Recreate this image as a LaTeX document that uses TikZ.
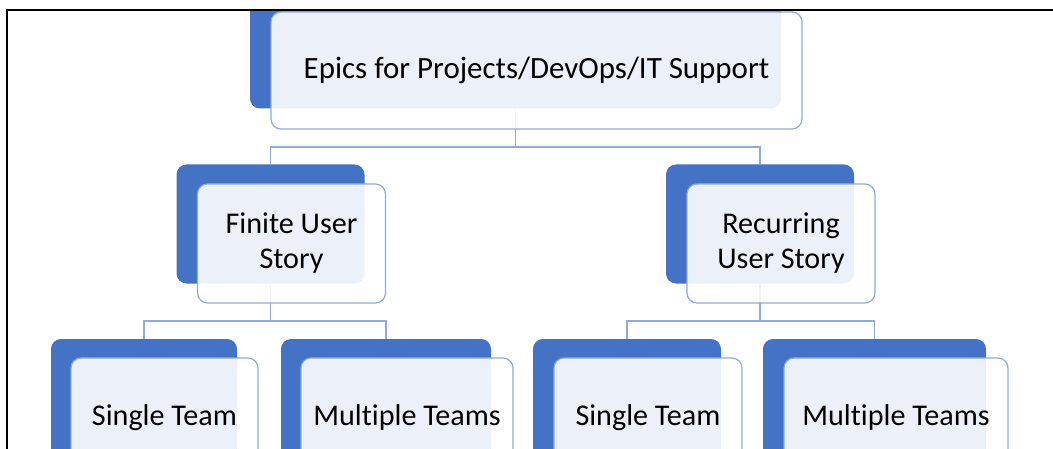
\documentclass[tikz,border=0pt]{standalone}
\usepackage{fontspec}
\setmainfont{Carlito}[Ligatures=NoCommon]
\definecolor{acc}{HTML}{4472C4}
\definecolor{lineblue}{HTML}{8FAADC}
\pgfdeclarelayer{bg}
\pgfsetlayers{bg,main}
\begin{document}
\begin{tikzpicture}[x=0.75pt,y=-0.75pt,
 bk/.style={fill=acc, draw=none, rounded corners=7.5pt, inner sep=0pt},
 fr/.style={fill=white, fill opacity=0.9, text opacity=1, draw=lineblue, line width=0.9pt, rounded corners=7.5pt, inner sep=0pt, align=center, text=black, font=\fontsize{22.6}{26.25}\selectfont},
 conn/.style={draw=lineblue, line width=0.9pt},
 frame/.style={draw=black, line width=2pt}]
\useasboundingbox (0,0) rectangle (1053,449);
\begin{scope}
\clip (0,10) rectangle (1053,449);
% top
\node[bk, minimum width=398.25pt, minimum height=87.75pt] (epicB) at (515.5,50) {};
\node[fr, minimum width=398.25pt, minimum height=87.75pt, font=\fontsize{23.2}{27}\selectfont] (epic) at (536.5,70.5) {Epics for Projects/DevOps/IT Support};
% level 2
\node[bk, minimum width=141pt, minimum height=89.25pt] (finB) at (270.5,224) {};
\node[fr, minimum width=141pt, minimum height=89.25pt] (fin) at (291.5,243.5) {Finite User\\Story};
\node[bk, minimum width=141pt, minimum height=89.25pt] (recB) at (760,224) {};
\node[fr, minimum width=141pt, minimum height=89.25pt] (rec) at (781,243.5) {Recurring\\User Story};
% level 3
\node[bk, minimum width=139.5pt, minimum height=89.25pt] (st1B) at (144,398.5) {};
\node[fr, minimum width=140.25pt, minimum height=89.25pt] (st1) at (164.5,417.5) {Single Team};
\node[bk, minimum width=157.5pt, minimum height=89.25pt] (mt1B) at (386,398.5) {};
\node[fr, minimum width=159pt, minimum height=89.25pt] (mt1) at (407,417.5) {Multiple Teams};
\node[bk, minimum width=141pt, minimum height=89.25pt] (st2B) at (627,398.5) {};
\node[fr, minimum width=141pt, minimum height=89.25pt] (st2) at (648,417.5) {Single Team};
\node[bk, minimum width=167.25pt, minimum height=89.25pt] (mt2B) at (874.5,398.5) {};
\node[fr, minimum width=168pt, minimum height=89.25pt] (mt2) at (896,417.5) {Multiple Teams};
\end{scope}
\begin{pgfonlayer}{bg}
\coordinate (j1) at (516,147);
\coordinate (j2) at (271,321);
\coordinate (j3) at (760,321);
\draw[conn] (epicB.south) -- (epicB.south |- j1) -| (finB.north);
\draw[conn] (epicB.south |- j1) -| (recB.north);
\draw[conn] (finB.south) -- (finB.south |- j2) -| (st1B.north);
\draw[conn] (finB.south |- j2) -| (mt1B.north);
\draw[conn] (recB.south) -- (recB.south |- j3) -| (st2B.north);
\draw[conn] (recB.south |- j3) -| (mt2B.north);
\end{pgfonlayer}
\coordinate (fa) at (7,449);
\coordinate (fb) at (7,10);
\coordinate (fc) at (1053,10);
\draw[frame] (fa) -- (fb) -- (fc);
\end{tikzpicture}
\end{document}
